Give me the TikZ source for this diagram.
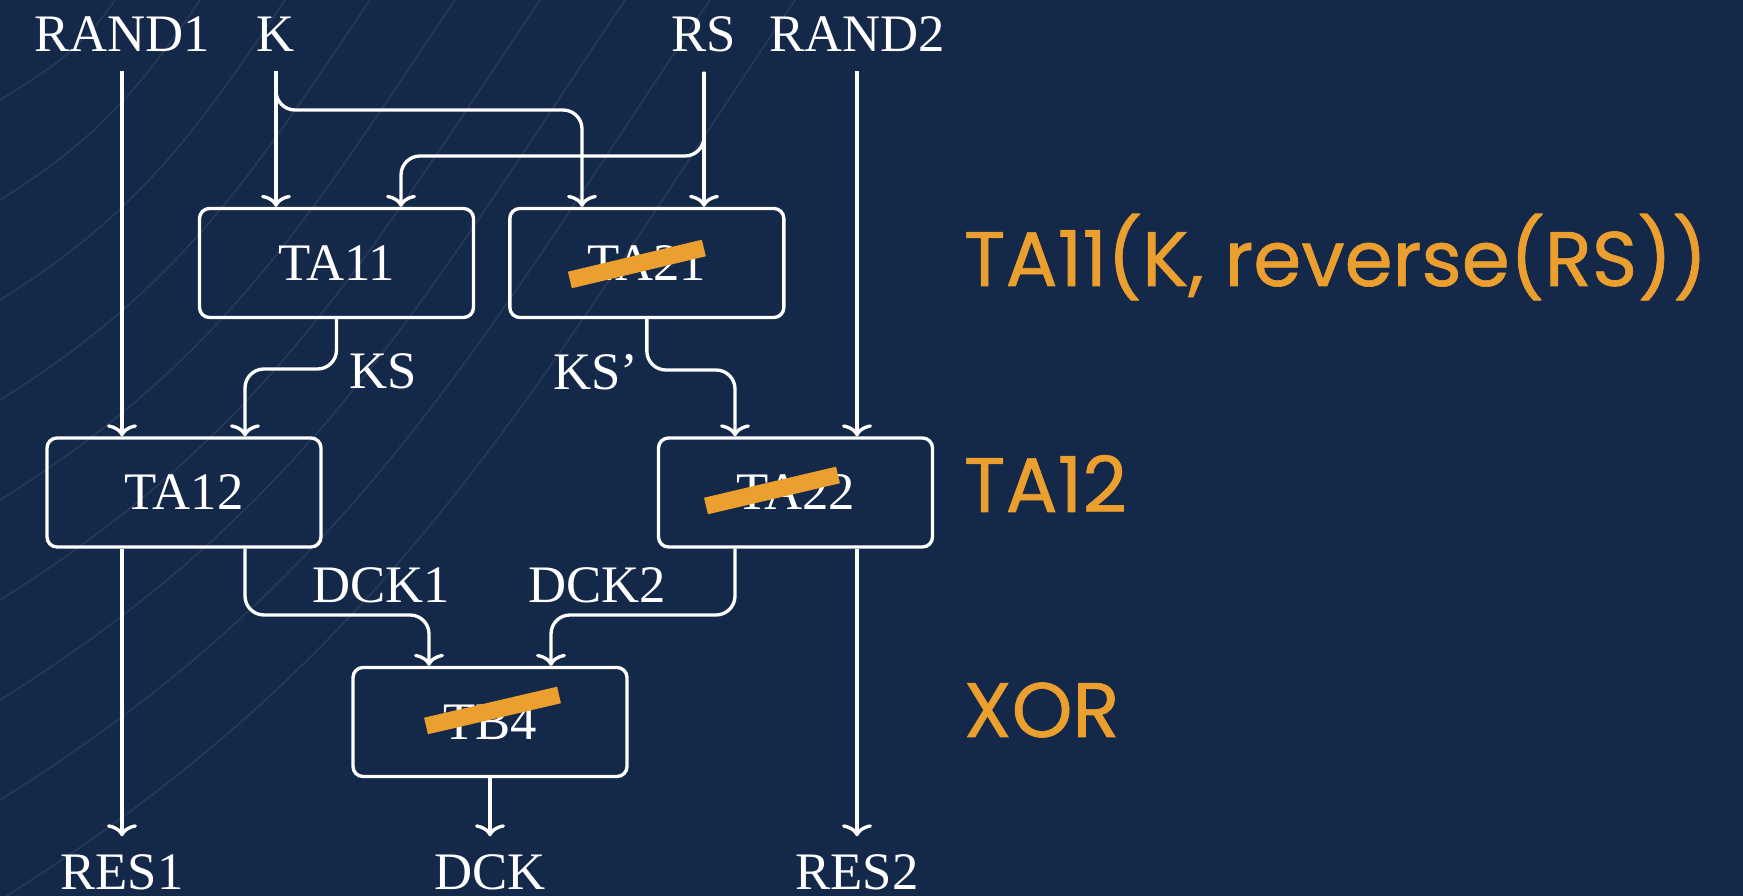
\documentclass[tikz,border=0pt]{standalone}
\usepackage{fontspec}
\setmainfont{Liberation Serif}
\newfontfamily\popfont[FakeBold=0.8]{Poppins}
\usetikzlibrary{arrows.meta, positioning, calc}

\definecolor{navy}{HTML}{14284A}
\definecolor{accent}{HTML}{EB9F2F}

\begin{document}
\begin{tikzpicture}[
    font=\fontsize{15}{18}\selectfont,
    blockbox/.style={
        rectangle, rounded corners=1mm, draw=white, line width=0.95pt,
        text=white, minimum width=2.74cm, minimum height=1.09cm
    },
    sig/.style={text=white, inner sep=0pt, outer sep=0.2cm},
    edgelabel/.style={text=white, inner sep=0pt},
    wire/.style={-{To[length=1.2mm, width=3mm]}, line width=0.95pt,
        draw=white, rounded corners=1.9mm},
    strike/.style={line width=0.17cm, draw=accent},
    note/.style={text=accent, font=\popfont\fontsize{22}{26}\selectfont,
        inner sep=0pt, anchor=base west}
]

% Background and faint diagonal sweeps
\fill[navy] (0,0) rectangle (17.43,-8.96);
\begin{scope}
    \clip (0,0) rectangle (17.43,-8.96);
    \foreach \i in {1,...,9}
        \draw[white, opacity=0.08, line width=0.5pt]
            (0,-\i) to[out=32, in=-124] ({0.3+0.85*\i},0);
\end{scope}

% Input and output signals
\node[sig] (rand1) at (1.22,-0.34) {RAND1};
\node[sig] (k)     at (2.76,-0.34) {K};
\node[sig] (rs)    at (7.04,-0.34) {RS};
\node[sig] (rand2) at (8.57,-0.34) {RAND2};
\node[sig, outer sep=0.18cm] (res1) at (1.22,-8.72) {RES1};
\node[sig, outer sep=0.18cm] (dck)  at (4.90,-8.72) {DCK};
\node[sig, outer sep=0.18cm] (res2) at (8.57,-8.72) {RES2};

% Function blocks
\node[blockbox] (ta11) at (3.365,-2.63) {TA11};
\node[blockbox, right=0.33cm of ta11] (ta21) {TA21};
\node[blockbox] (ta12) at (1.84,-4.925) {TA12};
\node[blockbox] (ta22) at (7.955,-4.925) {TA22};
\node[blockbox] (tb4)  at (4.90,-7.22) {TB4};

% Bend points of the routed wires
\coordinate (kbend)   at (5.82,-1.10);
\coordinate (rsbend)  at (4.01,-1.56);
\coordinate (ksbend)  at (2.45,-3.69);
\coordinate (kspbend) at (7.35,-3.70);
\coordinate (d1bend)  at (4.29,-6.15);
\coordinate (d2bend)  at (5.51,-6.15);

% Wires
\draw[wire] (rand1.south) -- (rand1.south |- ta12.north);
\draw[wire] (k.south)     -- (k.south |- ta11.north);
\draw[wire] (k.south)     |- (kbend) -- (kbend |- ta21.north);
\draw[wire] (rs.south)    -- (rs.south |- ta21.north);
\draw[wire] (rs.south)    |- (rsbend) -- (rsbend |- ta11.north);
\draw[wire] (rand2.south) -- (rand2.south |- ta22.north);

\draw[wire] (ta11.south) |- (ksbend) -- (ksbend |- ta12.north);
\draw[wire] (ta21.south) |- (kspbend) -- (kspbend |- ta22.north);

\draw[wire] (ta12.south -| ksbend)  |- (d1bend) -- (d1bend |- tb4.north);
\draw[wire] (ta22.south -| kspbend) |- (d2bend) -- (d2bend |- tb4.north);

\draw[wire] (ta12.south -| res1) -- (res1.north);
\draw[wire] (tb4.south)          -- (dck.north);
\draw[wire] (ta22.south -| res2) -- (res2.north);

% Wire labels
\node[edgelabel] (ks)   at (3.83,-3.71) {KS};
\node[edgelabel] (ksp)  at (5.96,-3.72) {KS’};
\node[edgelabel] (dck1) at (3.81,-5.85) {DCK1};
\node[edgelabel] (dck2) at (5.97,-5.85) {DCK2};

% Struck-out blocks
\draw[strike] ($(ta21.center)+(-0.77,-0.17)$) -- ($(ta21.center)+(0.57,0.15)$);
\draw[strike] ($(ta22.center)+(-0.895,-0.135)$) -- ($(ta22.center)+(0.425,0.175)$);
\draw[strike] ($(tb4.center)+(-0.64,-0.04)$) -- ($(tb4.center)+(0.69,0.27)$);

% Notes on the right
\node[note] (n1) at (9.63,-2.86) {TA11(K, reverse(RS))};
\node[note] (n2) at (9.63,-5.12) {TA12};
\node[note] (n3) at (9.63,-7.37) {XOR};

\end{tikzpicture}
\end{document}
